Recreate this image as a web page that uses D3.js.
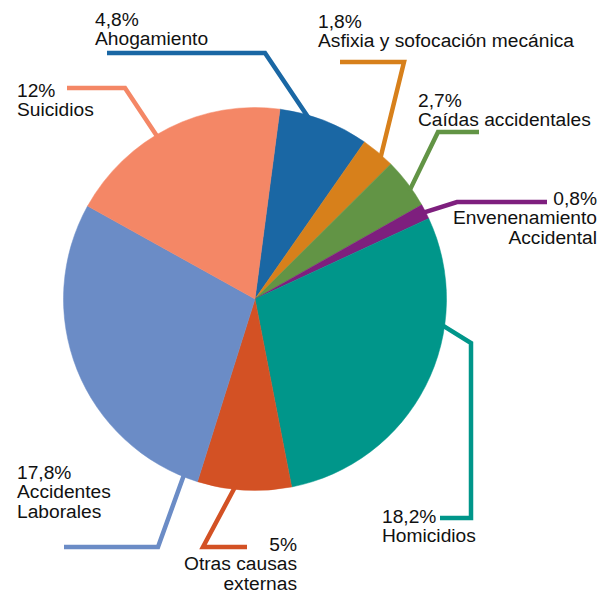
<!DOCTYPE html>
<html>
<head>
<meta charset="utf-8">
<script src="https://cdn.jsdelivr.net/npm/d3@7"></script>
<style>
  html, body { margin: 0; padding: 0; background: #ffffff; }
  svg { display: block; }
  text { font-family: "Liberation Sans", Arial, Helvetica, sans-serif; fill: #111; }
</style>
</head>
<body>
<svg id="chart" width="611" height="595"></svg>
<script>
// ---- data ----
const categories = ["Ahogamiento", "Asfixia y sofocación mecánica", "Caídas accidentales",
  "Envenenamiento\nAccidental", "Homicidios", "Otras causas\nexternas",
  "Accidentes\nLaborales", "Suicidios"];
const values = [4.8, 1.8, 2.7, 0.8, 18.2, 5, 17.8, 12];
const valueLabels = ["4,8%", "1,8%", "2,7%", "0,8%", "18,2%", "5%", "17,8%", "12%"];

// ---- styles / layout ----
const colors = ["#1a67a4", "#d7801b", "#629445", "#7e1f7e", "#00968a", "#d35124", "#6b8cc6", "#f48766"];
const cx = 255, cy = 299, R = 191.5;
const startDeg = 7.5;
const fontSize = 19.2, lineH = 19.4;
// label layout: text x, anchor, first baseline, leader preferred angle (deg), leader path after anchor
const layout = [
  { x: 95,  anchor: "start", y: 26,  ang: 16.6,  path: [[265, 53], [107, 53]] },
  { x: 318, anchor: "start", y: 28,  ang: 41.7,  path: [[404, 62], [340, 62]] },
  { x: 418, anchor: "start", y: 107, ang: 55,    path: [[438, 132], [479, 132]] },
  { x: 597, anchor: "end",   y: 205, ang: 66,    path: [[457, 202], [547, 202]] },
  { x: 382, anchor: "start", y: 523, ang: 97.9,  path: [[471, 343], [471, 518], [440, 518]] },
  { x: 297, anchor: "end",   y: 551, ang: 186,   path: [[203, 547], [247, 547]] },
  { x: 17,  anchor: "start", y: 479, ang: 202,   path: [[158, 547], [64, 547]] },
  { x: 17,  anchor: "start", y: 97,  ang: 329,   path: [[125, 88], [67, 88]] }
];

const svg = d3.select("#chart");
const toRad = d => d * Math.PI / 180;

const pie = d3.pie().sort(null).value(d => d)
  .startAngle(toRad(startDeg)).endAngle(toRad(startDeg) + 2 * Math.PI);
const arcs = pie(values);
const arc = d3.arc().innerRadius(0).outerRadius(R);

const g = svg.append("g").attr("transform", `translate(${cx},${cy})`);
g.selectAll("path.slice").data(arcs).join("path")
  .attr("class", "slice")
  .attr("d", arc)
  .attr("fill", (d, i) => colors[i])
  .attr("stroke", (d, i) => colors[i])
  .attr("stroke-width", 0.5);

// leaders
const line = d3.line();
arcs.forEach((a, i) => {
  const L = layout[i];
  const pad = Math.min(toRad(1), (a.endAngle - a.startAngle) / 3);
  const lo = a.startAngle + pad, hi = a.endAngle - pad;
  let t = toRad(L.ang);
  while (t < lo - Math.PI) t += 2 * Math.PI;
  if (t < lo || t > hi) t = (a.startAngle + a.endAngle) / 2;
  const rr = R - 3;
  const p0 = [cx + rr * Math.sin(t), cy - rr * Math.cos(t)];
  svg.append("path")
    .attr("d", line([p0, ...L.path]))
    .attr("fill", "none")
    .attr("stroke", colors[i])
    .attr("stroke-width", 4.5)
    .attr("stroke-linejoin", "miter");
});

// labels
arcs.forEach((a, i) => {
  const L = layout[i];
  const lines = [valueLabels[i], ...categories[i].split("\n")];
  const txt = svg.append("text")
    .attr("x", L.x).attr("y", L.y)
    .attr("text-anchor", L.anchor)
    .attr("font-size", fontSize);
  lines.forEach((s, k) => {
    txt.append("tspan").attr("x", L.x).attr("y", L.y + k * lineH).text(s);
  });
});
</script>
</body>
</html>
